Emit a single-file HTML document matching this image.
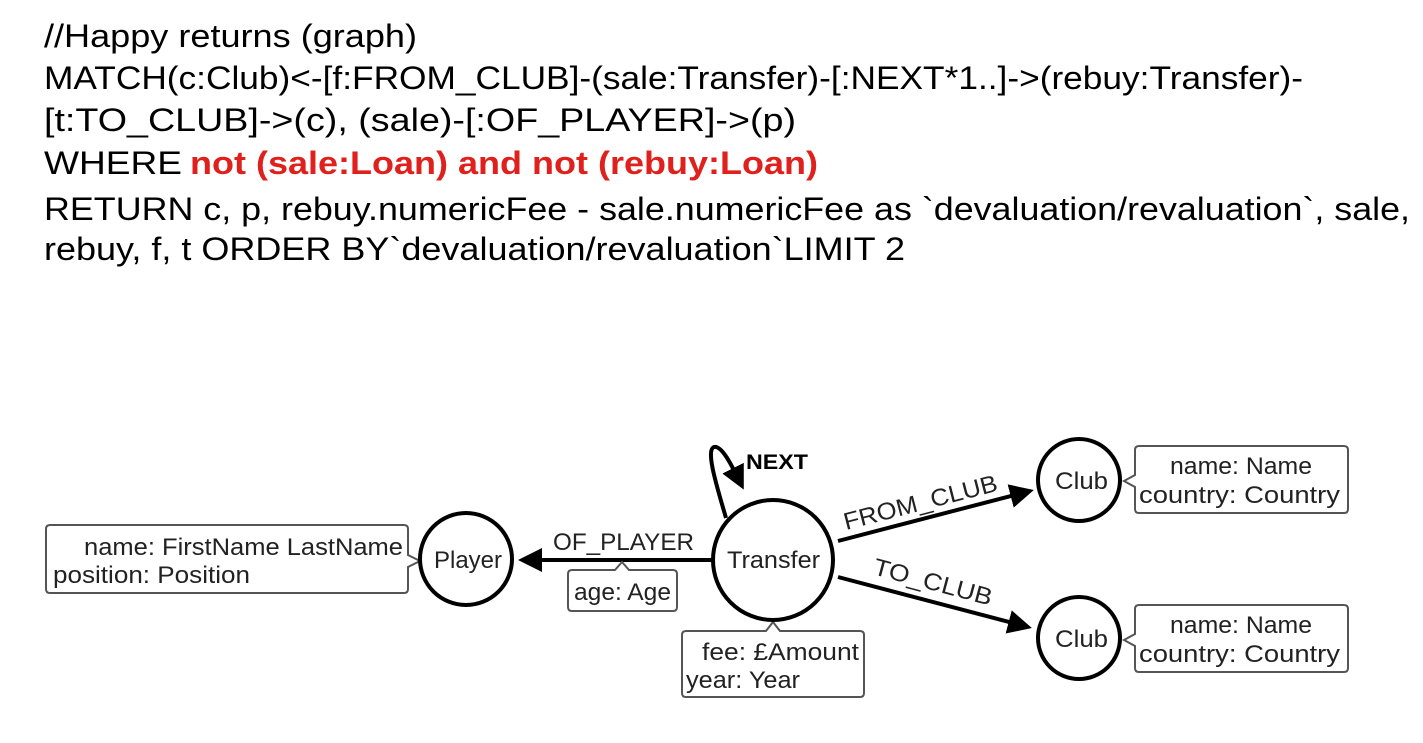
<!DOCTYPE html>
<html><head><meta charset="utf-8"><style>
html,body{margin:0;padding:0;background:#fff;}
svg{display:block;}
.q{font-family:"Liberation Sans",sans-serif;font-size:32px;fill:#000;}
.r{fill:#e0201c;font-weight:bold;}
.d{font-family:"Liberation Sans",sans-serif;font-size:24px;fill:#222;}
.box{fill:#fff;stroke:#555;stroke-width:2;}
.c{fill:#fff;stroke:#000;stroke-width:4;}
.l{stroke:#000;stroke-width:4;fill:none;}
</style></head><body>
<svg width="1423" height="743" viewBox="0 0 1423 743" xmlns="http://www.w3.org/2000/svg">
<defs><marker id="a" markerWidth="6" markerHeight="6" refX="5" refY="3" orient="auto" markerUnits="strokeWidth"><path d="M0,0 L6,3 L0,6 z" fill="#000"/></marker></defs>
<text class="q" x="44" y="47" textLength="373" lengthAdjust="spacingAndGlyphs">//Happy returns (graph)</text>
<text class="q" x="44" y="89" textLength="1259" lengthAdjust="spacingAndGlyphs">MATCH(c:Club)&lt;-[f:FROM_CLUB]-(sale:Transfer)-[:NEXT*1..]-&gt;(rebuy:Transfer)-</text>
<text class="q" x="44" y="131" textLength="752" lengthAdjust="spacingAndGlyphs">[t:TO_CLUB]-&gt;(c), (sale)-[:OF_PLAYER]-&gt;(p)</text>
<text class="q" x="44" y="174" textLength="138" lengthAdjust="spacingAndGlyphs">WHERE</text>
<text class="q r" x="190" y="174" textLength="628" lengthAdjust="spacingAndGlyphs">not (sale:Loan) and not (rebuy:Loan)</text>
<text class="q" x="44" y="220" textLength="1366" lengthAdjust="spacingAndGlyphs">RETURN c, p, rebuy.numericFee - sale.numericFee as `devaluation/revaluation`, sale,</text>
<text class="q" x="44" y="260" textLength="861" lengthAdjust="spacingAndGlyphs">rebuy, f, t ORDER BY`devaluation/revaluation`LIMIT 2</text>

<!-- edges -->
<line class="l" x1="712" y1="560" x2="522" y2="560" marker-end="url(#a)"/>
<line class="l" x1="838" y1="541" x2="1030" y2="491" marker-end="url(#a)"/>
<line class="l" x1="838" y1="577" x2="1028" y2="627" marker-end="url(#a)"/>
<path class="l" d="M726,518 C718,490 705,450 714,447 C722,445 732,466 742,486" marker-end="url(#a)"/>
<text class="d" x="746" y="469" textLength="62" lengthAdjust="spacingAndGlyphs" style="font-weight:bold;font-size:21px;fill:#000">NEXT</text>
<text class="d" x="553" y="550" textLength="141" lengthAdjust="spacingAndGlyphs">OF_PLAYER</text>
<text class="d" transform="translate(846,530) rotate(-14.5)" textLength="158" lengthAdjust="spacingAndGlyphs">FROM_CLUB</text>
<text class="d" transform="translate(872,574) rotate(15)" textLength="122" lengthAdjust="spacingAndGlyphs">TO_CLUB</text>

<!-- prop boxes -->
<path class="box" d="M50,525 H404 Q408,525 408,529 V555 L420,561 L408,567 V589 Q408,593 404,593 H50 Q46,593 46,589 V529 Q46,525 50,525 Z"/>
<text class="d" x="84" y="555" textLength="319" lengthAdjust="spacingAndGlyphs">name: FirstName LastName</text>
<text class="d" x="53" y="583" textLength="197" lengthAdjust="spacingAndGlyphs">position: Position</text>

<path class="box" d="M572,570 H615 L622,562 L629,570 H673 Q677,570 677,574 V607 Q677,611 673,611 H572 Q568,611 568,607 V574 Q568,570 572,570 Z"/>
<text class="d" x="574" y="600" textLength="97" lengthAdjust="spacingAndGlyphs">age: Age</text>

<path class="box" d="M686,631 H766 L773,622 L780,631 H860 Q864,631 864,635 V693 Q864,697 860,697 H686 Q682,697 682,693 V635 Q682,631 686,631 Z"/>
<text class="d" x="702" y="660" textLength="157" lengthAdjust="spacingAndGlyphs">fee: £Amount</text>
<text class="d" x="686" y="688" textLength="114" lengthAdjust="spacingAndGlyphs">year: Year</text>

<path class="box" d="M1139,446 H1344 Q1348,446 1348,450 V509 Q1348,513 1344,513 H1139 Q1135,513 1135,509 V487 L1124,481 L1135,475 V450 Q1135,446 1139,446 Z"/>
<text class="d" x="1170" y="474" textLength="142" lengthAdjust="spacingAndGlyphs">name: Name</text>
<text class="d" x="1139" y="503" textLength="201" lengthAdjust="spacingAndGlyphs">country: Country</text>
<path class="box" d="M1139,605 H1344 Q1348,605 1348,609 V668 Q1348,672 1344,672 H1139 Q1135,672 1135,668 V646 L1124,640 L1135,634 V609 Q1135,605 1139,605 Z"/>
<text class="d" x="1170" y="633" textLength="142" lengthAdjust="spacingAndGlyphs">name: Name</text>
<text class="d" x="1139" y="662" textLength="201" lengthAdjust="spacingAndGlyphs">country: Country</text>

<!-- nodes -->
<circle class="c" cx="466" cy="559" r="46"/>
<text class="d" x="434" y="568" textLength="68" lengthAdjust="spacingAndGlyphs">Player</text>
<circle class="c" cx="773" cy="560" r="60"/>
<text class="d" x="727" y="568" textLength="93" lengthAdjust="spacingAndGlyphs">Transfer</text>
<circle class="c" cx="1079" cy="480" r="41"/>
<text class="d" x="1055" y="489" textLength="53" lengthAdjust="spacingAndGlyphs">Club</text>
<circle class="c" cx="1079" cy="638" r="41"/>
<text class="d" x="1055" y="647" textLength="53" lengthAdjust="spacingAndGlyphs">Club</text>
</svg>
</body></html>
